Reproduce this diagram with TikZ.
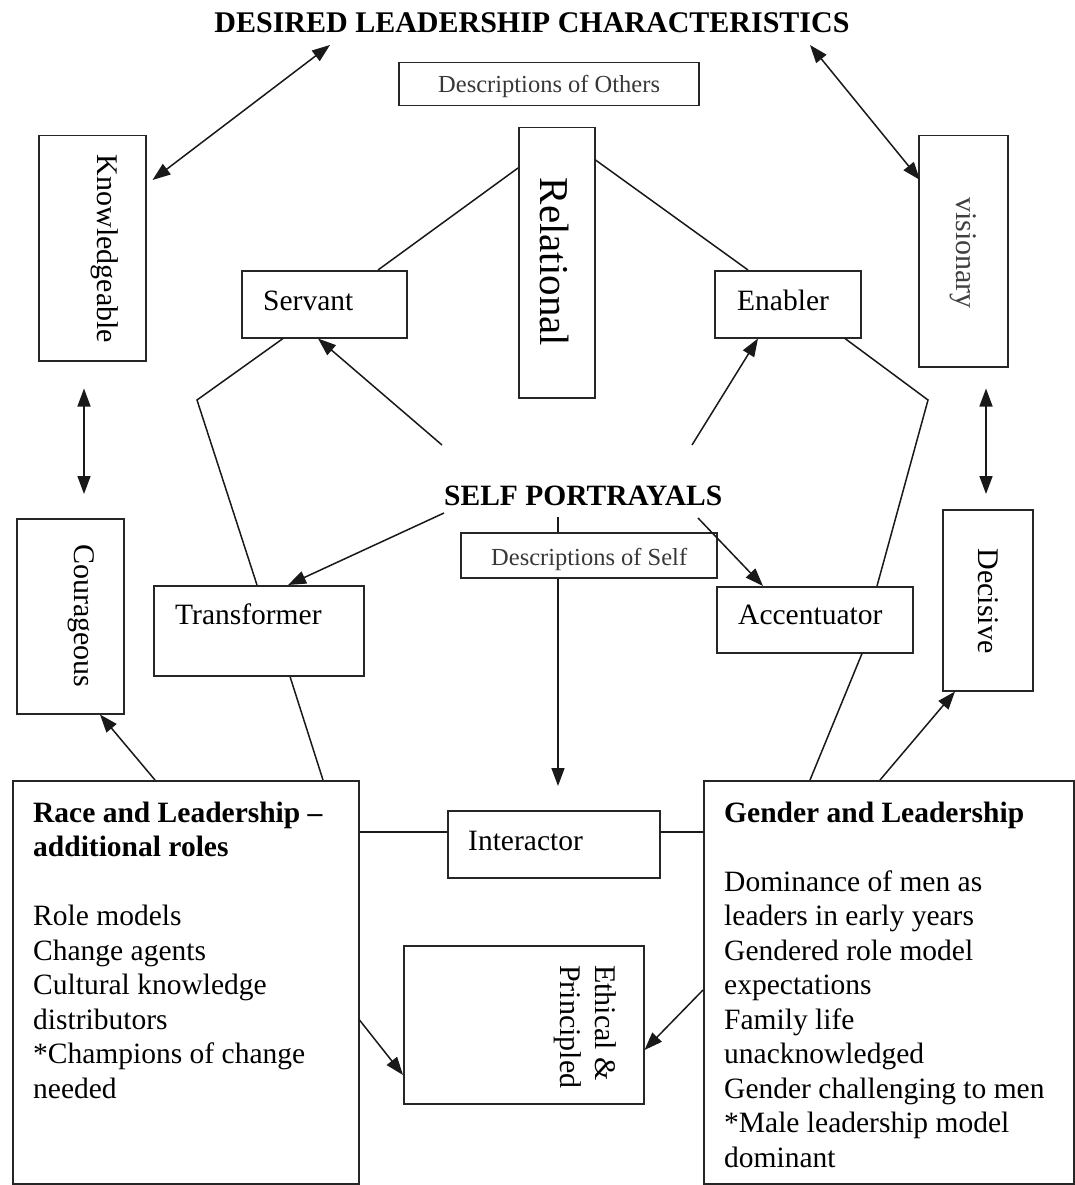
\documentclass[tikz,border=0pt]{standalone}
\usepackage{fontspec}
\setmainfont{Liberation Serif}
\usetikzlibrary{arrows.meta,calc}
\begin{document}
\begin{tikzpicture}[x=1pt,y=-1pt,
  bx/.style={draw=black!85, line width=1.5pt, inner sep=0pt, anchor=north west},
  ln/.style={draw=black!90, line width=1.5pt},
  arr/.style={ln, -{Triangle[length=18pt,width=13pt]}},
  darr/.style={ln, {Triangle[length=18pt,width=13pt]}-{Triangle[length=18pt,width=13pt]}},
  txt/.style={inner sep=0pt, anchor=base west, font=\fontsize{29.5}{34.5}\selectfont},
  btxt/.style={txt, font=\fontsize{29.5}{34.5}\selectfont\bfseries},
  dtxt/.style={inner sep=0pt, anchor=base west, text=black!78, font=\fontsize{24.5}{29}\selectfont},
  rtxt/.style={inner sep=0pt, anchor=base, rotate=-90, font=\fontsize{30}{34.5}\selectfont}
]
\useasboundingbox (0,0) rectangle (1075,1185);
\fill[white] (0,0) rectangle (1075,1185);

% ---- boxes ----
\node[bx, minimum width=300pt, minimum height=43pt] (dothers) at (398,62) {};
\node[bx, minimum width=107pt, minimum height=225pt] (know) at (38,135) {};
\node[bx, minimum width=76pt, minimum height=270pt] (relational) at (518,127) {};
\node[bx, minimum width=165pt, minimum height=67pt] (servant) at (241,270) {};
\node[bx, minimum width=146pt, minimum height=67pt] (enabler) at (714,270) {};
\node[bx, minimum width=89pt, minimum height=231pt] (vision) at (918,135) {};
\node[bx, minimum width=256pt, minimum height=45pt] (dself) at (460,532) {};
\node[bx, minimum width=107pt, minimum height=195pt] (courageous) at (16,518) {};
\node[bx, minimum width=210pt, minimum height=90pt] (transformer) at (153,585) {};
\node[bx, minimum width=196pt, minimum height=66pt] (accent) at (716,586) {};
\node[bx, minimum width=90pt, minimum height=181pt] (decisive) at (942,509) {};
\node[bx, minimum width=346pt, minimum height=403pt] (race) at (12,780) {};
\node[bx, minimum width=212pt, minimum height=67pt] (interactor) at (447,810) {};
\node[bx, minimum width=370pt, minimum height=403pt] (gender) at (703,780) {};
\node[bx, minimum width=240pt, minimum height=158pt] (ethical) at (403,945) {};

% ---- texts ----
\node[inner sep=0pt, anchor=base, font=\fontsize{30}{34}\selectfont\bfseries] (title) at (532,33) {DESIRED LEADERSHIP CHARACTERISTICS};
\node[dtxt] (dothersT) at (438,93) {Descriptions of Others};
\node[rtxt] (knowT) at (97,249) {Knowledgeable};
\node[rtxt, font=\fontsize{41}{46}\selectfont] (relT) at (540,262) {Relational};
\node[txt] (servantT) at (263,310) {Servant};
\node[txt] (enablerT) at (737,310) {Enabler};
\node[rtxt, text=black!75] (visionT) at (956,253) {visionary};
\node[btxt] (selfp) at (444,505) {SELF PORTRAYALS};
\node[dtxt] (dselfT) at (491,565) {Descriptions of Self};
\node[rtxt] (courT) at (74,616) {Courageous};
\node[txt] (transT) at (175,624) {Transformer};
\node[txt] (accentT) at (738,624) {Accentuator};
\node[rtxt] (decT) at (978,601) {Decisive};
\node[txt] (interT) at (468,850) {Interactor};
\node[inner sep=0pt, anchor=base west, rotate=-90, font=\fontsize{30}{34.5}\selectfont] (ethicalT) at (595,965)
  {\begin{tabular}[t]{@{}l@{}}Ethical \&\\Principled\end{tabular}};
\node[txt] (raceT) at (33,822)
  {\begin{tabular}[t]{@{}l@{}}\textbf{Race and Leadership –}\\\textbf{additional roles}\\ \\Role models\\Change agents\\Cultural knowledge\\distributors\\{}*Champions of change\\needed\end{tabular}};
\node[txt] (genderT) at (724,822)
  {\begin{tabular}[t]{@{}l@{}}\textbf{Gender and Leadership}\\ \\Dominance of men as\\leaders in early years\\Gendered role model\\expectations\\Family life\\unacknowledged\\Gender challenging to men\\{}*Male leadership model\\dominant\end{tabular}};

% ---- free ends ----
\coordinate (t1) at (330,45);
\coordinate (t2) at (810,45);
\coordinate (sbend) at (197,400);
\coordinate (ebend) at (928,400);
\coordinate (sp1) at (442,445);
\coordinate (sp2) at (692,445);
\coordinate (sp3) at (444,513);
\coordinate (sp4) at (698,518);
\coordinate (sp5) at (558,517);
\coordinate (iend) at (558,786);

% ---- plain lines ----
\draw[ln] ($(relational.north west)+(0,41)$) -- ($(servant.north west)+(137,0)$);
\draw[ln] ($(relational.north east)+(0,33)$) -- ($(enabler.north west)+(34,0)$);
\draw[ln] ($(servant.south west)+(42,0)$) -- (sbend) -- ($(transformer.north west)+(104,0)$);
\draw[ln] ($(transformer.south west)+(137,0)$) -- ($(race.north west)+(311,0)$);
\draw[ln] ($(enabler.south west)+(131,0)$) -- (ebend) -- ($(accent.north west)+(161,0)$);
\draw[ln] ($(accent.south west)+(146,0)$) -- ($(gender.north west)+(107,0)$);
\coordinate (ia) at ($(interactor.north west)+(0,22)$);
\coordinate (ib) at ($(interactor.north east)+(0,22)$);
\draw[ln] (race.east |- ia) -- (ia);
\draw[ln] (ib) -- (gender.west |- ib);
\draw[ln] (sp5) -- (dself.north -| sp5);

% ---- arrows ----
\draw[arr] (sp1) -- ($(servant.south west)+(77,0)$);
\draw[arr] (sp2) -- ($(enabler.south west)+(44,0)$);
\draw[arr] (sp3) -- ($(transformer.north west)+(135,0)$);
\draw[arr] (sp4) -- ($(accent.north west)+(47,0)$);
\draw[arr] (dself.south -| sp5) -- (iend);
\draw[arr] ($(race.north west)+(143,0)$) -- ($(courageous.south west)+(84,0)$);
\draw[arr] ($(gender.north west)+(177,0)$) -- ($(decisive.south west)+(13,0)$);
\draw[arr] ($(race.north east)+(0,240)$) -- ($(ethical.north west)+(0,130)$);
\draw[arr] ($(gender.north west)+(0,210)$) -- ($(ethical.north east)+(0,105)$);

% ---- double arrows ----
\draw[darr] (t1) -- ($(know.north east)+(6,45)$);
\draw[darr] (t2) -- ($(vision.north west)+(2,45)$);
\draw[darr] ($(know.south west)+(46,27)$) -- ($(courageous.north west)+(68,-24)$);
\draw[darr] ($(vision.south west)+(68,21)$) -- ($(decisive.north west)+(44,-15)$);
\end{tikzpicture}
\end{document}
